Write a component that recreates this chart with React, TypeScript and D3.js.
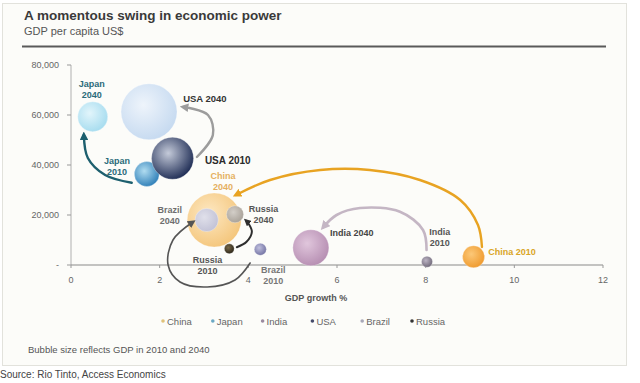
import React from "react";
import * as d3 from "d3";

// ---- data ----
const xTicks = [0, 2, 4, 6, 8, 10, 12];
const yTicks = [0, 20000, 40000, 60000, 80000];
const yTickLabels = ["-", "20,000", "40,000", "60,000", "80,000"];
const countries = ["China", "Japan", "India", "USA", "Brazil", "Russia"];
const countryColors = ["#e0c27a", "#6aa8c4", "#9a8aa0", "#444a6a", "#a8a8b8", "#333333"];

// bubbles: id, growth %, GDP per capita, GDP size (relative)
const bubbleIds = ["USA 2040", "Japan 2040", "Japan 2010", "USA 2010", "China 2040", "Brazil 2040", "Russia 2040", "Russia 2010", "Brazil 2010", "India 2040", "India 2010", "China 2010"];
const bubbleGrowth = [1.76, 0.49, 1.71, 2.29, 3.23, 3.06, 3.70, 3.57, 4.27, 5.41, 8.03, 9.08];
const bubbleGdpPc = [61300, 59300, 36400, 42700, 18000, 18000, 20300, 6500, 6300, 6900, 1300, 3300];
const bubbleGdp = [25.8, 7.4, 5.1, 14.5, 24.0, 4.4, 2.4, 0.8, 1.2, 10.7, 1.0, 4.0];
const bubbleInner = ["#eef4fb", "#e2f5fb", "#b0dcf0", "#c4cad9", "#fde8c2", "#e0e0ea", "#d3cec8", "#7a6a48", "#c0c0de", "#e0c6dc", "#bcb4c4", "#fcc878"];
const bubbleOuter = ["#c6daf0", "#a6dcef", "#2f7fb8", "#1f2d55", "#f4c67c", "#c2c2d6", "#a8a198", "#2a2418", "#7272a2", "#b68eb2", "#6f6878", "#ef9a2e"];

// arrows (growth %, GDP per capita) from 2010 to 2040
const japanArrowX = [1.37, 0.77, 0.38, 0.29];
const japanArrowY = [32900, 36000, 42800, 52000];
const usaArrowX = [2.84, 3.20, 3.09, 2.53];
const usaArrowY = [43200, 52000, 60000, 63200];
const chinaArrowX = [9.27, 9.18, 8.78, 7.87, 6.74, 5.62, 4.49, 3.72];
const chinaArrowY = [7200, 16000, 26000, 34000, 38000, 38000, 34000, 28000];
const indiaArrowX = [8.02, 7.94, 7.42, 6.52, 5.99, 5.69];
const indiaArrowY = [6000, 14000, 21300, 22800, 20000, 15100];
const brazilArrowX = [4.04, 3.70, 3.07, 2.46, 2.19, 2.30, 2.75];
const brazilArrowY = [800, -6000, -8800, -6800, 0, 10000, 17200];
const russiaArrowX = [3.74, 3.96, 4.08, 4.00, 3.95];
const russiaArrowY = [7100, 9300, 13300, 16700, 17700];

const arrowNames = ["japan", "usa", "china", "india", "brazil", "russia"];
const arrowXs = [japanArrowX, usaArrowX, chinaArrowX, indiaArrowX, brazilArrowX, russiaArrowX];
const arrowYs = [japanArrowY, usaArrowY, chinaArrowY, indiaArrowY, brazilArrowY, russiaArrowY];
const arrowColors = ["#1d5f6e", "#9c9c9c", "#e8a322", "#c4b6c4", "#555555", "#2e2e2e"];
const arrowWidths = [2.4, 2.4, 2.4, 2.6, 1.6, 2];

// labels
const labelLines = [["Japan", "2040"], ["USA 2040"], ["Japan", "2010"], ["USA 2010"], ["China", "2040"], ["Brazil", "2040"], ["Russia", "2040"], ["Russia", "2010"], ["Brazil", "2010"], ["India 2040"], ["India", "2010"], ["China 2010"]];
const labelX = [0.47, 2.53, 1.04, 3.02, 3.43, 2.23, 4.34, 3.08, 4.56, 5.84, 8.32, 9.41];
const labelY = [71400, 65400, 40600, 40600, 34600, 20900, 21300, 1000, -3000, 11800, 12200, 4200];
const labelAnchor = ["middle", "start", "middle", "start", "middle", "middle", "middle", "middle", "middle", "start", "middle", "start"];
const labelColors = ["#2b6b7a", "#333333", "#2b6b7a", "#2a2a2a", "#e5b060", "#6e6e6e", "#555555", "#555555", "#777777", "#444444", "#555555", "#d9a526"];
const labelSizes = [9, 9.5, 9, 10, 9, 9, 9, 9, 9, 9, 9, 9];

const W = 640;
const H = 383;
const FONT = "'Liberation Sans', Arial, sans-serif";

export default function App() {
  const x = d3.scaleLinear().domain([0, 12]).range([71, 603]);
  const y = d3.scaleLinear().domain([0, 80000]).range([265, 65]);
  const r = d3.scaleSqrt().domain([0, 14.5]).range([0, 21]);
  const line = d3
    .line<[number, number]>()
    .x((d) => x(d[0]))
    .y((d) => y(d[1]))
    .curve(d3.curveCatmullRom.alpha(0.5));

  return (
    <svg
      width={W}
      height={H}
      style={{ position: "absolute", left: 0, top: 0, background: "#ffffff" }}
      fontFamily={FONT}
    >
      <defs>
        {bubbleIds.map((id, i) => (
          <radialGradient key={id} id={`g${i}`} cx="40%" cy="38%" r="65%">
            <stop offset="0%" stopColor={bubbleInner[i]} />
            <stop offset="100%" stopColor={bubbleOuter[i]} />
          </radialGradient>
        ))}
        {arrowNames.map((n, i) => (
          <marker
            key={n}
            id={`m${i}`}
            viewBox="0 0 10 10"
            refX="6"
            refY="5"
            markerWidth={i === 4 ? 5 : 3.6}
            markerHeight={i === 4 ? 5 : 3.6}
            orient="auto"
          >
            <path d="M0,0 L10,5 L0,10 z" fill={arrowColors[i]} />
          </marker>
        ))}
      </defs>

      {/* panel */}
      <rect x={2.5} y={3.5} width={624} height={362} fill="#fcfcf9" stroke="#e2e2dc" />

      {/* title */}
      <text x={24} y={20} fontSize={13.5} fontWeight="bold" fill="#3a3a3a">
        A momentous swing in economic power
      </text>
      <text x={24} y={35} fontSize={11} fill="#555">
        GDP per capita US$
      </text>
      <line x1={22} x2={606} y1={46.5} y2={46.5} stroke="#5a5a5a" strokeWidth={2} />

      {/* y axis */}
      <line x1={x(0)} x2={x(0)} y1={y(80000)} y2={y(0)} stroke="#b0b0b0" strokeWidth={1} />
      {yTicks.map((t, i) => (
        <g key={t}>
          <line x1={x(0) - 4} x2={x(0)} y1={y(t)} y2={y(t)} stroke="#999" />
          <text x={59} y={y(t) + 3} fontSize={9} fill="#666" textAnchor="end">
            {yTickLabels[i]}
          </text>
        </g>
      ))}

      {/* x axis */}
      <line x1={x(0)} x2={x(12)} y1={y(0)} y2={y(0)} stroke="#8a8a8a" strokeWidth={1.2} />
      {xTicks.map((t) => (
        <g key={t}>
          <line x1={x(t)} x2={x(t)} y1={y(0)} y2={y(0) + 3} stroke="#999" />
          <text x={x(t)} y={283} fontSize={9} fill="#666" textAnchor="middle">
            {t}
          </text>
        </g>
      ))}
      <text x={316} y={301} fontSize={9} fontWeight="bold" fill="#555" textAnchor="middle">
        GDP growth %
      </text>

      {/* bubbles */}
      {bubbleIds.map((id, i) => (
        <circle
          key={id}
          cx={x(bubbleGrowth[i])}
          cy={y(bubbleGdpPc[i])}
          r={r(bubbleGdp[i])}
          fill={`url(#g${i})`}
          stroke="#ffffff"
          strokeOpacity={0.5}
          strokeWidth={0.6}
        />
      ))}

      {/* arrows */}
      {arrowNames.map((n, i) => (
        <path
          key={n}
          d={line(arrowXs[i].map((v, j) => [v, arrowYs[i][j]] as [number, number])) || ""}
          fill="none"
          stroke={arrowColors[i]}
          strokeWidth={arrowWidths[i]}
          strokeLinecap="round"
          markerEnd={`url(#m${i})`}
        />
      ))}

      {/* labels */}
      {labelLines.map((lines, i) => (
        <text
          key={i}
          x={x(labelX[i])}
          y={y(labelY[i])}
          fontSize={labelSizes[i]}
          fontWeight="bold"
          fill={labelColors[i]}
          textAnchor={labelAnchor[i]}
        >
          {lines.map((l, j) => (
            <tspan key={j} x={x(labelX[i])} dy={j === 0 ? 0 : 11.5}>
              {l}
            </tspan>
          ))}
        </text>
      ))}

      {/* legend */}
      {countries.map((c, i) => {
        const lx = d3.scalePoint<string>().domain(countries).range([163, 412])(c) || 0;
        return (
          <g key={c}>
            <circle cx={lx} cy={321} r={1.8} fill={countryColors[i]} />
            <text x={lx + 4} y={325} fontSize={9.5} fill="#666">
              {c}
            </text>
          </g>
        );
      })}

      <text x={28} y={353} fontSize={9.5} fill="#555">
        Bubble size reflects GDP in 2010 and 2040
      </text>
      <text x={0} y={378} fontSize={10} fill="#444">
        Source: Rio Tinto, Access Economics
      </text>
    </svg>
  );
}
